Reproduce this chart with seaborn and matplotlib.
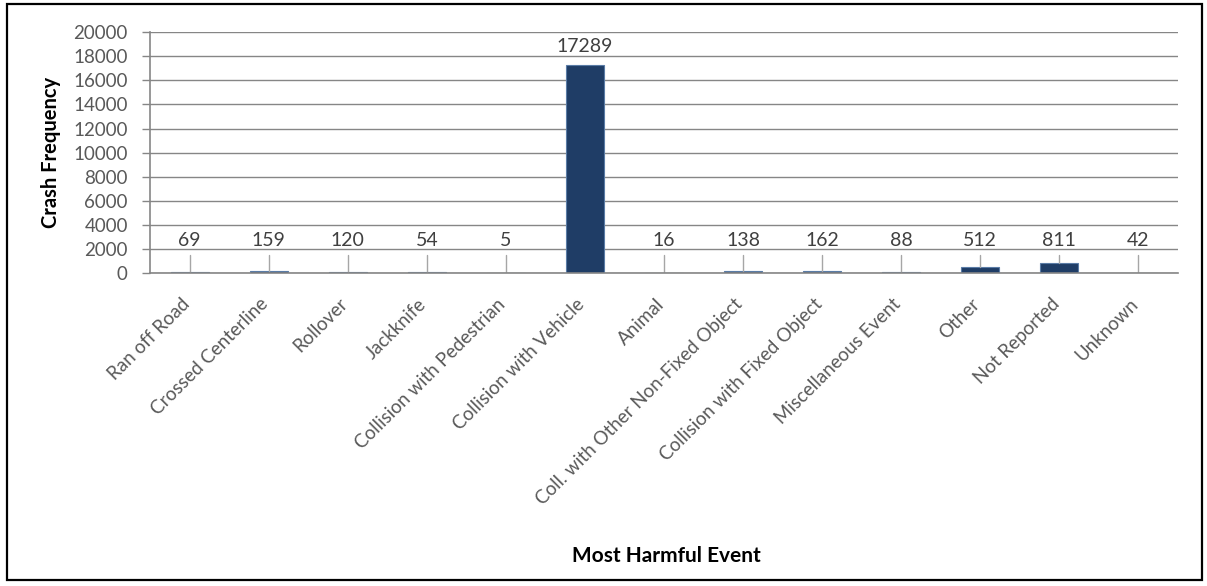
import matplotlib
matplotlib.use("Agg")
import matplotlib.pyplot as plt
import matplotlib.transforms as mtransforms
from matplotlib.patches import Rectangle
import seaborn as sns
import pandas as pd

categories = [
    "Ran off Road", "Crossed Centerline", "Rollover", "Jackknife",
    "Collision with Pedestrian", "Collision with Vehicle", "Animal",
    "Coll. with Other Non-Fixed Object", "Collision with Fixed Object",
    "Miscellaneous Event", "Other", "Not Reported", "Unknown",
]
crash_counts = [69, 159, 120, 54, 5, 17289, 16, 138, 162, 88, 512, 811, 42]
y_ticks = list(range(0, 20001, 2000))

sns.set_theme(style="white")
plt.rcParams["font.family"] = ["Lato", "DejaVu Sans"]

df = pd.DataFrame({"event": categories, "count": crash_counts})

fig = plt.figure(figsize=(12.07, 5.86), dpi=100)
ax = fig.add_axes([0.1243, 0.534, 0.8517, 0.411])

sns.barplot(data=df, x="event", y="count", color="#1F3D66", width=0.48,
            edgecolor="#5A7CA6", linewidth=0.8, saturation=1, ax=ax)

ax.set_xlim(-0.5, len(categories) - 0.5)
ax.set_ylim(0, 20000)
ax.set_yticks(y_ticks)
ax.set_yticklabels([str(t) for t in y_ticks], fontsize=13.5, color="#595959")
ax.yaxis.grid(True, color="#868686", linewidth=1.0)
ax.set_axisbelow(True)

for side in ["top", "right"]:
    ax.spines[side].set_visible(False)
for side in ["left", "bottom"]:
    ax.spines[side].set_color("#868686")
    ax.spines[side].set_linewidth(1.2)

ax.tick_params(axis="y", which="major", left=True, length=6, width=1,
               color="#868686", pad=10)
ax.tick_params(axis="x", which="major", bottom=False, pad=2)

ax.set_xticks(range(len(categories)))
ax.set_xticklabels(categories, rotation=45, ha="right", rotation_mode="anchor",
                   fontsize=13.5, color="#595959")
shift = mtransforms.ScaledTranslation(-0.09, -0.11, fig.dpi_scale_trans)
for lbl in ax.get_xticklabels():
    lbl.set_transform(lbl.get_transform() + shift)

# value labels: small bars get a callout line up to a common label height
label_level = 2700
line_top = 1500
for i, v in enumerate(crash_counts):
    if v < label_level - 700:
        ax.plot([i, i], [v, line_top], color="#A6A6A6", linewidth=1.0, zorder=1)
        ax.text(i, label_level, str(v), ha="center", va="center",
                fontsize=14, color="#404040")
    else:
        ax.text(i, v + 1500, str(v), ha="center", va="center",
                fontsize=14, color="#404040")

ax.set_ylabel("Crash Frequency", fontsize=14.5, fontweight="bold", color="black",
              labelpad=9)
ax.set_xlabel("")
fig.text(0.552, 0.051, "Most Harmful Event", ha="center", va="center",
         fontsize=15, fontweight="bold", color="black")

# chart frame
fig.patches.append(Rectangle((0.006, 0.011), 0.990, 0.982,
                             transform=fig.transFigure, fill=False,
                             edgecolor="black", linewidth=1.6))

fig.savefig("out.png", dpi=100)
